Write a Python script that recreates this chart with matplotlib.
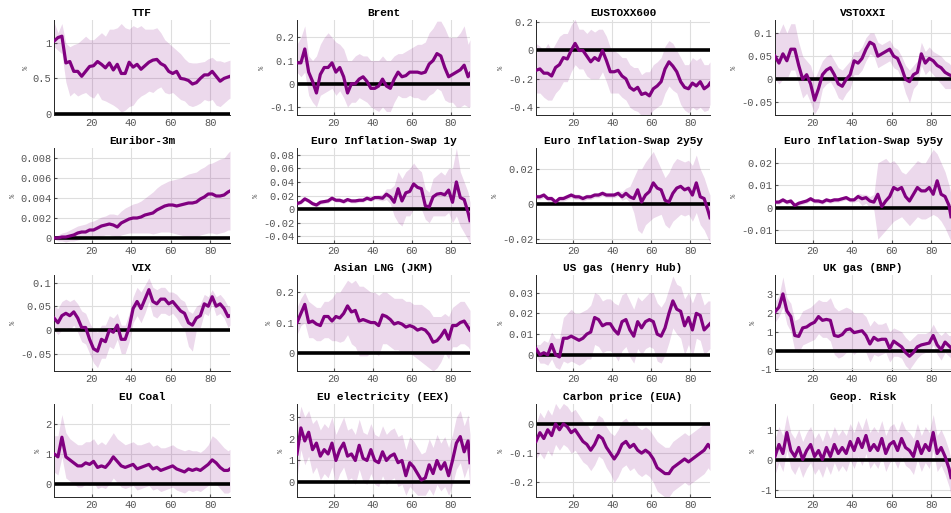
import numpy as np
import matplotlib
matplotlib.use("Agg")
import matplotlib.pyplot as plt
from matplotlib.ticker import FormatStrFormatter

# horizon steps shared by all panels
x = list(range(1, 90, 2)) + [90]

titles = ["TTF", "Brent", "EUSTOXX600", "VSTOXXI",
          "Euribor-3m", "Euro Inflation-Swap 1y", "Euro Inflation-Swap 2y5y", "Euro Inflation-Swap 5y5y",
          "VIX", "Asian LNG (JKM)", "US gas (Henry Hub)", "UK gas (BNP)",
          "EU Coal", "EU electricity (EEX)", "Carbon price (EUA)", "Geop. Risk"]

ttf_mid = [1.03, 1.08, 1.1, 0.72, 0.74, 0.6, 0.6, 0.53, 0.6, 0.67,
           0.68, 0.74, 0.7, 0.65, 0.72, 0.62, 0.7, 0.57, 0.57, 0.73,
           0.66, 0.7, 0.63, 0.68, 0.73, 0.76, 0.77, 0.71, 0.68, 0.6,
           0.57, 0.6, 0.5, 0.49, 0.47, 0.42, 0.44, 0.5, 0.55, 0.55,
           0.6, 0.53, 0.46, 0.5, 0.52, 0.53]
ttf_hi = [1.3, 1.15, 1.28, 1.0, 0.95, 0.98, 1.0, 1.05, 1.1, 1.05,
          1.05, 1.1, 1.15, 1.1, 1.2, 1.2, 1.22, 1.28, 1.22, 1.2,
          1.25, 1.22, 1.25, 1.2, 1.2, 1.2, 1.22, 1.15, 1.05, 1.0,
          0.95, 0.9, 0.85, 0.78, 0.73, 0.72, 0.72, 0.73, 0.74, 0.78,
          0.8, 0.75, 0.75, 0.73, 0.75, 0.76]
ttf_lo = [0.95, 0.9, 0.85, 0.45, 0.25, 0.3, 0.25, 0.28, 0.3, 0.25,
          0.22, 0.3, 0.2, 0.18, 0.15, 0.12, 0.08, 0.02, 0.05, 0.1,
          0.12, 0.2, 0.25, 0.28, 0.32, 0.3, 0.35, 0.38, 0.3, 0.28,
          0.3, 0.25, 0.2, 0.18, 0.12, 0.1, 0.12, 0.15, 0.2, 0.18,
          0.2, 0.12, 0.1, 0.15, 0.2, 0.22]

brent_mid = [0.09, 0.09, 0.15, 0.05, 0.01, -0.04, 0.04, 0.07, 0.07, 0.09,
             0.05, 0.07, 0.03, -0.04, 0.0, 0.0, 0.02, 0.03, 0.01, -0.02,
             -0.02, -0.01, 0.02, -0.01, -0.02, 0.02, 0.05, 0.03, 0.035, 0.05,
             0.05, 0.05, 0.045, 0.05, 0.085, 0.1, 0.13, 0.12, 0.07, 0.03,
             0.04, 0.05, 0.06, 0.08, 0.03, 0.045]
brent_hi = [0.17, 0.2, 0.25, 0.12, 0.1, 0.12, 0.17, 0.2, 0.22, 0.2,
            0.18, 0.17, 0.15, 0.1, 0.1, 0.12, 0.13, 0.12, 0.12, 0.1,
            0.1, 0.1, 0.12, 0.1, 0.1, 0.12, 0.13, 0.13, 0.14, 0.15,
            0.16, 0.17, 0.17, 0.18, 0.22, 0.24, 0.27, 0.27, 0.24, 0.2,
            0.2, 0.2, 0.22, 0.25, 0.17, 0.19]
brent_lo = [0.05, 0.03, 0.05, -0.05, -0.08, -0.1, -0.05, -0.04, -0.03, -0.02,
            -0.05, -0.03, -0.06, -0.1, -0.08, -0.08, -0.06, -0.07, -0.08, -0.1,
            -0.11, -0.12, -0.1, -0.12, -0.12, -0.08, -0.05, -0.06, -0.06, -0.05,
            -0.06, -0.06, -0.07, -0.07, -0.05, -0.04, -0.02, -0.03, -0.07, -0.08,
            -0.08, -0.1, -0.1, -0.09, -0.1, -0.1]

stoxx_mid = [-0.14, -0.13, -0.16, -0.16, -0.18, -0.12, -0.1, -0.05, -0.06, 0.0,
             0.05, 0.0, 0.0, -0.04, -0.08, -0.05, -0.07, 0.0, -0.07, -0.15,
             -0.15, -0.14, -0.18, -0.2, -0.26, -0.28, -0.26, -0.31, -0.3, -0.32,
             -0.27, -0.25, -0.22, -0.13, -0.08, -0.11, -0.15, -0.22, -0.26, -0.27,
             -0.23, -0.25, -0.22, -0.27, -0.25, -0.23]
stoxx_hi = [0.05, 0.03, 0.0, 0.05, 0.0, 0.05, 0.1, 0.12, 0.12, 0.18,
            0.22, 0.15, 0.15, 0.12, 0.15, 0.13, 0.15, 0.15, 0.1, 0.02,
            0.0, -0.02, -0.05, -0.05, -0.1, -0.12, -0.12, -0.17, -0.15, -0.15,
            -0.1, -0.08, -0.05, 0.03, 0.07, 0.05, 0.0, -0.05, -0.1, -0.1,
            -0.05, -0.07, -0.05, -0.1, -0.1, -0.08]
stoxx_lo = [-0.3, -0.3, -0.33, -0.35, -0.35, -0.3, -0.27, -0.22, -0.22, -0.15,
            -0.1, -0.13, -0.13, -0.18, -0.2, -0.2, -0.2, -0.15, -0.22, -0.3,
            -0.3, -0.3, -0.33, -0.35, -0.4, -0.42, -0.43, -0.46, -0.45, -0.46,
            -0.42, -0.4, -0.38, -0.3, -0.25, -0.28, -0.3, -0.38, -0.42, -0.44,
            -0.4, -0.42, -0.4, -0.43, -0.42, -0.38]

vstoxx_mid = [0.05, 0.035, 0.055, 0.04, 0.065, 0.065, 0.03, 0.0, 0.01, -0.01,
              -0.045, -0.02, 0.01, 0.02, 0.025, 0.01, -0.01, -0.015, 0.0, 0.01,
              0.04, 0.035, 0.045, 0.065, 0.08, 0.075, 0.05, 0.055, 0.06, 0.065,
              0.05, 0.045, 0.025, 0.0, -0.005, 0.01, 0.015, 0.055, 0.035, 0.045,
              0.04, 0.03, 0.025, 0.015, 0.01, 0.008]
vstoxx_hi = [0.1, 0.1, 0.12, 0.1, 0.12, 0.12, 0.08, 0.05, 0.04, 0.03,
             0.0, 0.02, 0.04, 0.05, 0.055, 0.04, 0.025, 0.02, 0.03, 0.04,
             0.06, 0.06, 0.07, 0.09, 0.1, 0.1, 0.08, 0.075, 0.08, 0.085,
             0.07, 0.065, 0.05, 0.03, 0.02, 0.03, 0.04, 0.08, 0.06, 0.07,
             0.06, 0.055, 0.05, 0.04, 0.035, 0.03]
vstoxx_lo = [0.0, -0.01, 0.0, 0.0, 0.02, 0.02, -0.01, -0.04, -0.03, -0.05,
             -0.075, -0.06, -0.02, -0.01, -0.005, -0.02, -0.04, -0.045, -0.03, -0.02,
             0.01, 0.01, 0.02, 0.04, 0.055, 0.05, 0.025, 0.03, 0.035, 0.04,
             0.025, 0.02, 0.0, -0.03, -0.05, -0.02, -0.01, 0.03, 0.01, 0.02,
             0.01, 0.0, -0.01, -0.02, -0.02, -0.02]

eur_mid = [0.0, 0.0, 0.0001, 0.0001, 0.0002, 0.0003, 0.0005, 0.0006, 0.0006, 0.0008,
           0.0008, 0.001, 0.0012, 0.0013, 0.0014, 0.0013, 0.0011, 0.0015, 0.0017, 0.0019,
           0.002, 0.002, 0.0021, 0.0023, 0.0024, 0.0025, 0.0028, 0.003, 0.0032, 0.0033,
           0.0033, 0.0032, 0.0033, 0.0034, 0.0035, 0.0035, 0.0036, 0.0039, 0.0041, 0.0044,
           0.0044, 0.0042, 0.0042, 0.0043, 0.0046, 0.0047]
eur_hi = [0.0001, 0.0003, 0.0005, 0.0006, 0.0008, 0.001, 0.0012, 0.0013, 0.0014, 0.0016,
          0.0017, 0.0019, 0.0021, 0.0022, 0.0024, 0.0024, 0.0023, 0.0027, 0.003, 0.0032,
          0.0034, 0.0035, 0.0037, 0.004, 0.0043, 0.0046, 0.005, 0.0053, 0.0055, 0.0057,
          0.0058, 0.0059, 0.006, 0.0062, 0.0064, 0.0065, 0.0066, 0.0069, 0.0071, 0.0074,
          0.0075, 0.0077, 0.0079, 0.008, 0.0085, 0.0087]
eur_lo = [-0.0001, -0.0003, -0.0003, -0.0004, -0.0003, -0.0003, -0.0002, -0.0001, -0.0001, 0.0,
          0.0, 0.0001, 0.0002, 0.0003, 0.0003, 0.0002, 0.0, 0.0003, 0.0004, 0.0005,
          0.0005, 0.0005, 0.0005, 0.0005, 0.0005, 0.0004, 0.0005, 0.0006, 0.0006, 0.0006,
          0.0005, 0.0004, 0.0003, 0.0002, 0.0001, 0.0, 0.0001, 0.0003, 0.0004, 0.0005,
          0.0005, 0.0004, 0.0005, 0.0006, 0.0008, 0.0008]

sw1_mid = [0.008, 0.01, 0.015, 0.012, 0.008, 0.006, 0.01, 0.011, 0.012, 0.016,
           0.013, 0.013, 0.011, 0.014, 0.012, 0.012, 0.013, 0.013, 0.016, 0.014,
           0.017, 0.017, 0.016, 0.022, 0.018, 0.01, 0.03, 0.012, 0.024, 0.026,
           0.037, 0.032, 0.03, 0.005, 0.003, 0.018, 0.022, 0.023, 0.021, 0.028,
           0.01, 0.04, 0.017, 0.014, -0.005, -0.017]
sw1_hi = [0.011, 0.013, 0.018, 0.015, 0.011, 0.009, 0.013, 0.014, 0.015, 0.019,
          0.016, 0.016, 0.014, 0.017, 0.015, 0.015, 0.016, 0.016, 0.019, 0.017,
          0.02, 0.021, 0.022, 0.03, 0.03, 0.035, 0.055, 0.045, 0.055, 0.06,
          0.068, 0.06, 0.055, 0.03, 0.025, 0.045, 0.05, 0.055, 0.05, 0.06,
          0.06, 0.09, 0.055, 0.04, 0.025, 0.01]
sw1_lo = [0.005, 0.007, 0.012, 0.009, 0.005, 0.003, 0.007, 0.008, 0.009, 0.013,
          0.01, 0.01, 0.008, 0.011, 0.009, 0.009, 0.01, 0.01, 0.013, 0.011,
          0.014, 0.013, 0.012, 0.014, 0.008, -0.01, -0.02, -0.025, -0.01, -0.01,
          0.0, 0.0, 0.0, -0.015, -0.02, -0.01, -0.01, -0.01, -0.01, -0.005,
          -0.02, -0.01, -0.025, -0.035, -0.045, -0.05]

sw25_mid = [0.004, 0.004, 0.005, 0.003, 0.003, 0.001, 0.003, 0.003, 0.004, 0.005,
            0.004, 0.004, 0.003, 0.004, 0.004, 0.005, 0.005, 0.006, 0.005, 0.005,
            0.005, 0.006, 0.004, 0.006, 0.004, 0.003, 0.008, 0.001, 0.005, 0.007,
            0.012, 0.009, 0.008, 0.002, 0.001, 0.006, 0.009, 0.01, 0.008, 0.009,
            0.005, 0.012, 0.004, 0.003, -0.004, -0.008]
sw25_hi = [0.0055, 0.0055, 0.0065, 0.0045, 0.0045, 0.0025, 0.0045, 0.0045, 0.0055, 0.0065,
           0.0055, 0.0055, 0.0045, 0.0055, 0.0055, 0.0065, 0.0065, 0.0075, 0.0065, 0.0065,
           0.0065, 0.0075, 0.007, 0.009, 0.01, 0.015, 0.02, 0.02, 0.024, 0.027,
           0.03, 0.025, 0.02, 0.015, 0.018, 0.023, 0.026, 0.025, 0.024, 0.025,
           0.022, 0.028, 0.02, 0.015, 0.008, 0.005]
sw25_lo = [0.0025, 0.0025, 0.0035, 0.0015, 0.0015, -0.0005, 0.0015, 0.0015, 0.0025, 0.0035,
           0.0025, 0.0025, 0.0015, 0.0025, 0.0025, 0.0035, 0.0035, 0.0045, 0.0035, 0.0035,
           0.0035, 0.0045, 0.002, 0.003, 0.001, -0.005, -0.015, -0.017, -0.012, -0.01,
           -0.008, -0.007, -0.006, -0.012, -0.014, -0.01, -0.008, -0.006, -0.007, -0.006,
           -0.01, -0.005, -0.012, -0.015, -0.02, -0.022]

sw55_mid = [0.0025, 0.0025, 0.0035, 0.0025, 0.003, 0.001, 0.002, 0.0025, 0.003, 0.004,
            0.003, 0.003, 0.0025, 0.0035, 0.003, 0.0035, 0.0035, 0.004, 0.0045, 0.0035,
            0.0035, 0.005, 0.004, 0.0045, 0.003, 0.0025, 0.006, 0.0005, 0.003, 0.005,
            0.009, 0.008, 0.009, 0.005, 0.003, 0.006, 0.009, 0.0075, 0.0075, 0.009,
            0.006, 0.012, 0.006, 0.005, 0.001, -0.004]
sw55_hi = [0.0035, 0.0035, 0.0045, 0.0035, 0.004, 0.002, 0.003, 0.0035, 0.004, 0.005,
           0.004, 0.004, 0.0035, 0.0045, 0.004, 0.0045, 0.0045, 0.005, 0.0055, 0.0045,
           0.0045, 0.0065, 0.006, 0.006, 0.005, 0.006, 0.02, 0.021, 0.022, 0.02,
           0.021, 0.019, 0.016, 0.015, 0.017, 0.019, 0.021, 0.02, 0.02, 0.023,
           0.026, 0.024, 0.02, 0.016, 0.01, 0.006]
sw55_lo = [0.0015, 0.0015, 0.0025, 0.0015, 0.002, 0.0, 0.001, 0.0015, 0.002, 0.003,
           0.002, 0.002, 0.0015, 0.0025, 0.002, 0.0025, 0.0025, 0.003, 0.0035, 0.0025,
           0.0025, 0.003, 0.001, 0.002, 0.0, -0.001, -0.014, -0.012, -0.01, -0.008,
           -0.006, -0.005, -0.004, -0.006, -0.008, -0.006, -0.004, -0.005, -0.005, -0.004,
           -0.003, -0.004, -0.006, -0.009, -0.013, -0.015]

vix_mid = [0.025, 0.015, 0.03, 0.035, 0.03, 0.038, 0.025, 0.005, 0.005, -0.02,
           -0.04, -0.045, -0.02, -0.025, 0.0, -0.005, 0.01, -0.02, -0.02, 0.005,
           0.045, 0.06, 0.045, 0.065, 0.085, 0.06, 0.055, 0.065, 0.065, 0.055,
           0.06, 0.05, 0.04, 0.035, 0.015, 0.01, 0.025, 0.03, 0.055, 0.05,
           0.07, 0.05, 0.055, 0.045, 0.028, 0.03]
vix_hi = [0.05, 0.045, 0.06, 0.065, 0.06, 0.065, 0.055, 0.04, 0.035, 0.015,
          0.0, -0.005, 0.01, 0.01, 0.03, 0.025, 0.035, 0.01, 0.01, 0.035,
          0.07, 0.09, 0.08, 0.095, 0.11, 0.09, 0.085, 0.09, 0.09, 0.08,
          0.08, 0.075, 0.065, 0.06, 0.04, 0.035, 0.05, 0.055, 0.075, 0.07,
          0.085, 0.07, 0.075, 0.065, 0.05, 0.05]
vix_lo = [0.0, -0.01, 0.0, 0.005, 0.0, 0.01, -0.005, -0.025, -0.03, -0.05,
          -0.07, -0.08, -0.06, -0.06, -0.035, -0.04, -0.02, -0.05, -0.05, -0.025,
          0.015, 0.03, 0.015, 0.035, 0.06, 0.03, 0.025, 0.035, 0.035, 0.03,
          0.035, 0.025, 0.01, 0.0, -0.035, -0.045, 0.0, 0.005, 0.035, 0.03,
          0.055, 0.03, 0.035, 0.025, 0.005, 0.01]

lng_mid = [0.1, 0.13, 0.16, 0.1, 0.105, 0.095, 0.09, 0.12, 0.12, 0.105,
           0.12, 0.115, 0.13, 0.155, 0.135, 0.14, 0.105, 0.11, 0.105, 0.1,
           0.1, 0.09, 0.125, 0.12, 0.11, 0.095, 0.1, 0.095, 0.085, 0.09,
           0.085, 0.075, 0.08, 0.075, 0.06, 0.035, 0.04, 0.055, 0.075, 0.045,
           0.09, 0.09, 0.1, 0.105, 0.085, 0.075]
lng_hi = [0.15, 0.18, 0.2, 0.17, 0.16, 0.15, 0.15, 0.17, 0.17, 0.18,
          0.2, 0.2, 0.22, 0.24, 0.23, 0.24, 0.22, 0.22, 0.21, 0.2,
          0.2, 0.19, 0.2, 0.2, 0.19, 0.18, 0.18, 0.18, 0.17, 0.17,
          0.16, 0.16, 0.16, 0.15, 0.14, 0.12, 0.12, 0.12, 0.13, 0.12,
          0.15, 0.16, 0.17, 0.17, 0.15, 0.14]
lng_lo = [0.06, 0.09, 0.1, 0.05, 0.05, 0.04, 0.04, 0.05, 0.05, 0.04,
          0.04, 0.035, 0.04, 0.06, 0.03, 0.02, -0.01, -0.01, -0.01, 0.0,
          0.0, -0.01, 0.03, 0.03, 0.02, 0.01, 0.01, 0.0, 0.0, 0.0,
          -0.01, -0.02, -0.03, -0.04, -0.05, -0.06, -0.05, -0.03, 0.0, -0.02,
          0.02, 0.02, 0.03, 0.03, 0.02, 0.01]

hh_mid = [0.003, 0.0, 0.001, 0.0, 0.005, 0.0, -0.001, 0.008, 0.008, 0.009,
          0.008, 0.007, 0.008, 0.01, 0.011, 0.018, 0.017, 0.014, 0.015, 0.015,
          0.012, 0.01, 0.016, 0.017, 0.012, 0.009, 0.016, 0.013, 0.016, 0.017,
          0.016, 0.01, 0.009, 0.013, 0.02, 0.026, 0.022, 0.021, 0.014, 0.018,
          0.012, 0.02, 0.019, 0.012, 0.014, 0.015]
hh_hi = [0.005, 0.005, 0.007, 0.006, 0.011, 0.008, 0.008, 0.018, 0.02, 0.022,
         0.02, 0.02, 0.021, 0.022, 0.024, 0.03, 0.029, 0.026, 0.027, 0.027,
         0.025, 0.024, 0.029, 0.03, 0.026, 0.022, 0.028, 0.026, 0.028, 0.03,
         0.03, 0.025, 0.023, 0.026, 0.032, 0.038, 0.034, 0.033, 0.027, 0.03,
         0.025, 0.03, 0.03, 0.024, 0.026, 0.026]
hh_lo = [0.0, -0.004, -0.004, -0.005, -0.002, -0.006, -0.007, -0.003, -0.004, -0.003,
         -0.004, -0.005, -0.004, -0.002, -0.002, 0.005, 0.004, 0.001, 0.002, 0.002,
         0.0, -0.003, 0.002, 0.004, -0.001, -0.004, 0.003, 0.0, 0.003, 0.004,
         0.003, -0.003, -0.004, 0.0, 0.006, 0.013, 0.01, 0.008, 0.0, 0.005,
         -0.001, 0.008, 0.007, 0.0, 0.002, 0.003]

nbp_mid = [2.05, 2.3, 3.0, 2.1, 1.8, 0.8, 0.75, 1.2, 1.25, 1.4,
           1.5, 1.8, 1.6, 1.65, 1.6, 0.8, 0.75, 0.85, 1.1, 1.15,
           0.95, 1.0, 1.05, 0.8, 0.35, 0.7, 0.55, 0.6, 0.6, 0.1,
           0.5, 0.35, 0.2, -0.1, -0.3, -0.1, 0.2, 0.3, 0.35, 0.4,
           0.8, 0.3, 0.05, 0.45, 0.25, 0.15]
nbp_hi = [2.6, 2.9, 3.9, 2.8, 2.5, 1.6, 1.7, 2.1, 2.2, 2.3,
          2.5, 2.7, 2.6, 2.6, 2.8, 2.3, 2.1, 2.2, 2.3, 2.2,
          2.0, 2.0, 2.0, 1.8, 1.3, 1.6, 1.4, 1.4, 1.5, 1.0,
          1.2, 1.1, 1.0, 0.7, 0.5, 0.7, 0.9, 0.9, 0.9, 1.0,
          1.4, 1.0, 0.8, 1.0, 0.8, 0.8]
nbp_lo = [1.5, 1.8, 2.3, 1.4, 1.0, 0.0, -0.1, 0.3, 0.4, 0.5,
          0.6, 0.9, 0.7, 0.7, 0.5, -0.2, -0.4, -0.3, -0.1, 0.0,
          -0.2, 0.0, 0.1, -0.1, -0.6, -0.2, -0.3, -0.2, -0.1, -0.6,
          -0.3, -0.3, -0.4, -0.8, -1.0, -0.7, -0.4, -0.2, -0.1, -0.1,
          0.3, -0.2, -0.5, -0.1, -0.3, -0.4]

coal_mid = [1.0, 0.9, 1.55, 0.9, 0.8, 0.7, 0.6, 0.6, 0.7, 0.65,
            0.75, 0.55, 0.6, 0.55, 0.7, 0.9, 0.75, 0.6, 0.55, 0.6,
            0.65, 0.5, 0.55, 0.6, 0.65, 0.5, 0.55, 0.45, 0.5, 0.55,
            0.6, 0.5, 0.45, 0.4, 0.5, 0.45, 0.5, 0.45, 0.55, 0.65,
            0.8, 0.7, 0.55, 0.45, 0.45, 0.5]
coal_hi = [1.6, 1.6, 2.3, 1.7, 1.5, 1.4, 1.3, 1.3, 1.4, 1.4,
           1.5, 1.3, 1.4, 1.3, 1.5, 1.7, 1.5, 1.4, 1.3, 1.35,
           1.4, 1.3, 1.3, 1.35, 1.4, 1.25, 1.3, 1.2, 1.2, 1.25,
           1.3, 1.2, 1.15, 1.1, 1.15, 1.1, 1.1, 1.05, 1.15, 1.3,
           1.6, 1.5, 1.35, 1.2, 1.1, 1.15]
coal_lo = [0.4, 0.3, 0.9, 0.2, 0.1, 0.0, -0.1, -0.1, 0.0, -0.05,
           0.05, -0.15, -0.1, -0.15, 0.0, 0.2, 0.05, -0.1, -0.15, -0.1,
           -0.05, -0.2, -0.15, -0.1, -0.05, -0.2, -0.15, -0.25, -0.2, -0.15,
           -0.1, -0.2, -0.25, -0.3, -0.2, -0.25, -0.2, -0.25, -0.15, -0.05,
           0.1, 0.0, -0.15, -0.3, -0.3, -0.25]

eex_mid = [1.3, 2.5, 1.9, 2.3, 1.5, 1.8, 1.2, 1.5, 1.3, 1.8,
           1.0, 1.5, 1.8, 1.2, 1.3, 1.0, 1.7, 1.1, 1.0, 1.5,
           1.0, 0.9, 1.4, 1.0, 1.2, 1.3, 0.9, 1.0, 0.3, 0.9,
           0.7, 0.4, 0.1, 0.2, 0.8, 0.4, 1.0, 0.6, 0.9, 0.3,
           1.0, 1.8, 2.1, 1.4, 1.9, 0.9]
eex_hi = [2.5, 3.5, 3.0, 3.3, 2.7, 2.9, 2.4, 2.7, 2.5, 3.0,
          2.2, 2.6, 3.0, 2.4, 2.5, 2.2, 2.9, 2.3, 2.2, 2.7,
          2.2, 2.1, 2.6, 2.2, 2.4, 2.5, 2.1, 2.2, 1.5, 2.1,
          1.9, 1.6, 1.3, 1.4, 2.0, 1.6, 2.2, 1.8, 2.1, 1.6,
          2.2, 3.0, 3.3, 2.6, 3.1, 2.2]
eex_lo = [0.2, 1.5, 0.8, 1.2, 0.4, 0.7, 0.1, 0.4, 0.2, 0.7,
          -0.1, 0.4, 0.7, 0.1, 0.2, -0.1, 0.6, 0.0, -0.1, 0.4,
          -0.1, -0.2, 0.3, -0.1, 0.1, 0.2, -0.2, -0.1, -0.6, -0.2,
          -0.4, -0.6, -0.6, -0.6, -0.3, -0.6, -0.1, -0.4, -0.2, -0.6,
          -0.1, 0.6, 0.9, 0.2, 0.7, -0.2]

eua_mid = [-0.06, -0.03, -0.05, -0.02, -0.04, 0.0, -0.02, 0.0, -0.01, -0.03,
           -0.02, -0.04, -0.06, -0.07, -0.09, -0.07, -0.04, -0.05, -0.08, -0.1,
           -0.12, -0.1, -0.07, -0.06, -0.08, -0.07, -0.09, -0.1, -0.09, -0.1,
           -0.12, -0.15, -0.16, -0.17, -0.17, -0.15, -0.14, -0.13, -0.12, -0.13,
           -0.12, -0.11, -0.1, -0.09, -0.07, -0.08]
eua_hi = [0.0, 0.04, 0.02, 0.05, 0.03, 0.07, 0.05, 0.07, 0.06, 0.04,
          0.05, 0.03, 0.01, 0.0, -0.02, 0.0, 0.03, 0.02, -0.01, -0.03,
          -0.04, -0.02, 0.01, 0.02, 0.0, 0.01, -0.01, -0.02, -0.01, -0.02,
          -0.04, -0.06, -0.07, -0.08, -0.08, -0.06, -0.05, -0.04, -0.03, -0.04,
          -0.03, -0.02, -0.01, 0.0, 0.01, 0.0]
eua_lo = [-0.12, -0.1, -0.12, -0.09, -0.11, -0.07, -0.09, -0.07, -0.08, -0.1,
          -0.09, -0.11, -0.13, -0.14, -0.16, -0.14, -0.11, -0.12, -0.15, -0.17,
          -0.2, -0.18, -0.15, -0.14, -0.16, -0.15, -0.17, -0.18, -0.17, -0.18,
          -0.2, -0.23, -0.24, -0.25, -0.25, -0.23, -0.22, -0.21, -0.2, -0.21,
          -0.2, -0.19, -0.18, -0.17, -0.15, -0.16]

gpr_mid = [0.1, 0.5, 0.2, 0.9, 0.3, 0.1, 0.4, 0.0, 0.3, 0.5,
           0.1, 0.3, 0.0, 0.4, 0.1, 0.5, 0.2, 0.4, 0.2, 0.6,
           0.3, 0.7, 0.4, 0.8, 0.3, 0.5, 0.3, 0.7, 0.2, 0.5,
           0.6, 0.3, 0.7, 0.4, 0.3, 0.1, 0.6, 0.2, 0.5, 0.3,
           0.9, 0.2, 0.4, 0.1, -0.3, -0.6]
gpr_hi = [0.7, 1.1, 0.8, 1.5, 0.9, 0.7, 1.0, 0.6, 0.9, 1.1,
          0.7, 0.9, 0.6, 1.0, 0.7, 1.1, 0.8, 1.0, 0.8, 1.2,
          0.9, 1.3, 1.0, 1.4, 0.9, 1.1, 0.9, 1.3, 0.8, 1.1,
          1.2, 0.9, 1.3, 1.0, 0.9, 0.7, 1.2, 0.8, 1.1, 0.9,
          1.5, 0.8, 1.0, 0.7, 0.3, 0.0]
gpr_lo = [-0.5, -0.1, -0.4, 0.3, -0.3, -0.5, -0.2, -0.6, -0.3, -0.1,
          -0.5, -0.3, -0.6, -0.2, -0.5, -0.1, -0.4, -0.2, -0.4, 0.0,
          -0.3, 0.1, -0.2, 0.2, -0.3, -0.1, -0.3, 0.1, -0.4, -0.1,
          0.0, -0.3, 0.1, -0.2, -0.3, -0.5, 0.0, -0.4, -0.1, -0.3,
          0.3, -0.4, -0.2, -0.5, -0.9, -1.2]

mids = [ttf_mid, brent_mid, stoxx_mid, vstoxx_mid, eur_mid, sw1_mid, sw25_mid, sw55_mid,
        vix_mid, lng_mid, hh_mid, nbp_mid, coal_mid, eex_mid, eua_mid, gpr_mid]
his = [ttf_hi, brent_hi, stoxx_hi, vstoxx_hi, eur_hi, sw1_hi, sw25_hi, sw55_hi,
       vix_hi, lng_hi, hh_hi, nbp_hi, coal_hi, eex_hi, eua_hi, gpr_hi]
los = [ttf_lo, brent_lo, stoxx_lo, vstoxx_lo, eur_lo, sw1_lo, sw25_lo, sw55_lo,
       vix_lo, lng_lo, hh_lo, nbp_lo, coal_lo, eex_lo, eua_lo, gpr_lo]

yticks = [[0, 0.5, 1], [-0.1, 0, 0.1, 0.2], [-0.4, -0.2, 0, 0.2], [-0.05, 0, 0.05, 0.1],
          [0, 0.002, 0.004, 0.006, 0.008], [-0.04, -0.02, 0, 0.02, 0.04, 0.06, 0.08],
          [-0.02, 0, 0.02], [-0.01, 0, 0.01, 0.02],
          [-0.05, 0, 0.05, 0.1], [0, 0.1, 0.2], [0, 0.01, 0.02, 0.03], [-1, 0, 1, 2, 3],
          [0, 1, 2], [0, 1, 2, 3], [-0.2, -0.1, 0], [-1, 0, 1]]
ylims = [(-0.02, 1.33), (-0.135, 0.275), (-0.455, 0.215), (-0.077, 0.128),
         (-0.0005, 0.009), (-0.05, 0.09), (-0.0225, 0.032), (-0.0157, 0.0266),
         (-0.087, 0.116), (-0.06, 0.257), (-0.0078, 0.0385), (-1.08, 4.0),
         (-0.43, 2.65), (-0.68, 3.6), (-0.25, 0.068), (-1.25, 1.85)]

W, H = 951, 513
lefts = [54, 297, 536, 775]
widths = [176, 173, 174, 176]
tops = [20, 148, 275, 404]
heights = [95, 95, 96, 93]

plt.rcParams['font.family'] = ['Liberation Mono', 'DejaVu Sans Mono']

fig = plt.figure(figsize=(W / 100, H / 100), dpi=100)
purple = '#800080'

for i in range(16):
    r, c = divmod(i, 4)
    ax = fig.add_axes([lefts[c] / W, 1 - (tops[r] + heights[r]) / H, widths[c] / W, heights[r] / H])
    ax.fill_between(x, los[i], his[i], color=purple, alpha=0.15, lw=0, zorder=1)
    ax.axhline(0, color='black', lw=2.6, zorder=2)
    ax.plot(x, mids[i], color=purple, lw=2.3, zorder=3)
    ax.set_xlim(1, 90)
    ax.set_ylim(*ylims[i])
    ax.set_xticks([20, 40, 60, 80])
    ax.set_yticks(yticks[i])
    ax.yaxis.set_major_formatter(FormatStrFormatter('%g'))
    ax.grid(True, color='#dedede', lw=0.8, zorder=0)
    ax.set_axisbelow(True)
    for s in ['top', 'right']:
        ax.spines[s].set_visible(False)
    for s in ['left', 'bottom']:
        ax.spines[s].set_color('#262626')
        ax.spines[s].set_linewidth(0.7)
    ax.tick_params(labelsize=7.5, colors='#555555', length=2, direction='in', pad=2)
    ax.set_title(titles[i], fontsize=8, fontweight='bold', pad=3)
    ax.set_ylabel('%', fontsize=5, color='#555555', labelpad=2)

fig.savefig('out.png', dpi=100)
